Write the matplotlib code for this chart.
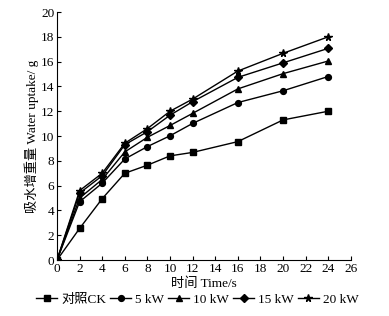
import matplotlib
matplotlib.use('Agg')
import matplotlib.pyplot as plt

plt.rcParams['font.family'] = ['Liberation Serif', 'Noto Sans CJK SC']
plt.rcParams['font.size'] = 9.5

# time points (s)
time_s = [0, 2, 4, 6, 8, 10, 12, 16, 20, 24]

# water uptake (g) for each treatment
ck = [0, 2.55, 4.95, 7.0, 7.65, 8.4, 8.68, 9.55, 11.3, 12.0]
kw5 = [0, 4.7, 6.2, 8.15, 9.15, 10.02, 11.02, 12.7, 13.65, 14.8]
kw10 = [0, 5.0, 6.5, 8.72, 9.9, 10.85, 11.83, 13.8, 15.03, 16.05]
kw15 = [0, 5.4, 6.8, 9.3, 10.35, 11.68, 12.77, 14.73, 15.9, 17.07]
kw20 = [0, 5.6, 7.0, 9.42, 10.6, 12.0, 12.98, 15.24, 16.67, 18.0]

labels = ['对照CK', '5 kW', '10 kW', '15 kW', '20 kW']
markers = ['s', 'o', '^', 'D', '*']
series = [ck, kw5, kw10, kw15, kw20]

fig = plt.figure(figsize=(3.89, 3.16), dpi=100)
ax = fig.add_axes([0.1465, 0.177, 0.7555, 0.785])

for vals, lab, mk in zip(series, labels, markers):
    ms = 5.5 if mk == '*' else 4.2
    if mk == 'D':
        ms = 3.8
    ax.plot(time_s, vals, color='black', lw=1.0, marker=mk, ms=ms, label=lab)

ax.set_xlim(0, 26)
ax.set_ylim(0, 20)
ax.set_xticks(range(0, 27, 2))
ax.set_yticks(range(0, 21, 2))
ax.spines['top'].set_visible(False)
ax.spines['right'].set_visible(False)
ax.tick_params(direction='in', length=3, width=0.8, pad=2)

ax.set_xlabel('时间 Time/s', labelpad=2)
ax.set_ylabel('吸水增重量 Water uptake/ g', labelpad=1)

ax.legend(loc='upper center', bbox_to_anchor=(0.478, -0.125), ncol=5, frameon=False,
          handlelength=1.6, handletextpad=0.3, columnspacing=0.3, borderaxespad=0,
          borderpad=0.2)

fig.savefig('out.png', dpi=100)
